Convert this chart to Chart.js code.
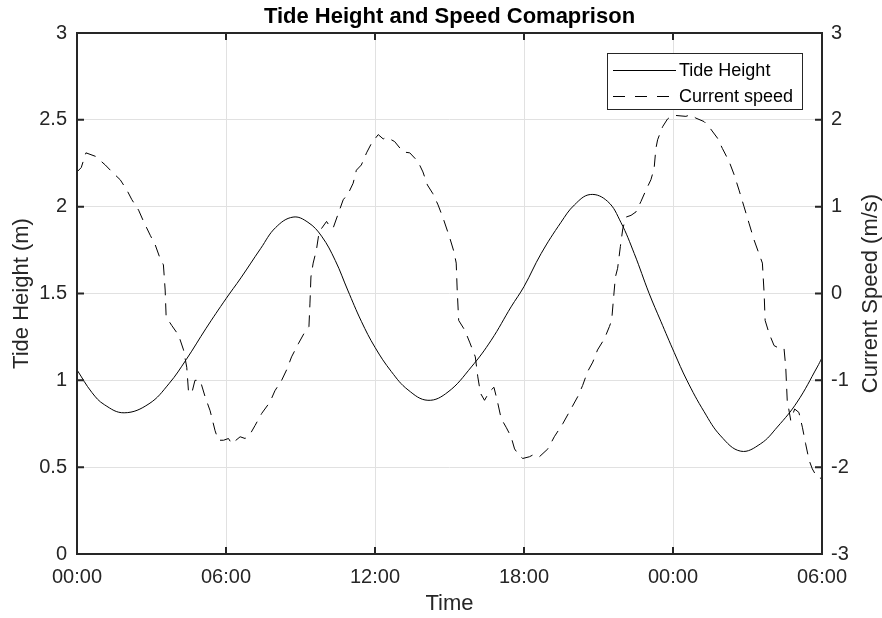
<!DOCTYPE html>
<html>
<head>
<meta charset="utf-8">
<script src="https://cdn.jsdelivr.net/npm/chart.js@4.4.1/dist/chart.umd.min.js"></script>
<style>
  html, body { margin: 0; padding: 0; background: #ffffff; }
  #wrap { width: 882px; height: 618px; position: relative; }
</style>
</head>
<body>
<div id="wrap"><canvas id="c" width="882" height="618"></canvas></div>
<script>
// ---- Data (hours since 00:00 of day 1) ----
const tideTime = [0, 0.6, 1.1, 1.9, 2.9, 3.7, 4.4, 5.2, 6.0, 6.6, 7.4, 8.0, 8.7, 9.3, 9.85, 10.4, 10.9, 11.45, 12.0, 12.66, 13.33, 14.13, 14.94, 15.88, 16.68, 17.48, 18.0, 18.69, 19.49, 20.03, 20.67, 21.37, 21.9, 22.44, 23.04, 23.51, 24.05, 24.56, 25.25, 25.92, 26.73, 27.53, 28.2, 29.0, 29.81, 30.0];
const tideHeight = [1.06, 0.93, 0.86, 0.813, 0.865, 0.98, 1.12, 1.30, 1.47, 1.59, 1.76, 1.88, 1.94, 1.91, 1.83, 1.69, 1.52, 1.34, 1.19, 1.05, 0.945, 0.885, 0.933, 1.077, 1.231, 1.423, 1.54, 1.73, 1.91, 2.01, 2.07, 2.03, 1.91, 1.73, 1.50, 1.34, 1.16, 1.0, 0.82, 0.68, 0.592, 0.635, 0.731, 0.875, 1.077, 1.13];

const speedTime = [0.0, 0.17, 0.36, 0.74, 1.14, 1.41, 1.74, 2.01, 2.21, 2.48, 2.68, 2.95, 3.15, 3.35, 3.48, 3.55, 3.59, 3.82, 4.09, 4.29, 4.42, 4.49, 4.62, 4.75, 4.96, 5.16, 5.36, 5.56, 5.69, 5.90, 6.10, 6.23, 6.57, 6.77, 6.97, 7.17, 7.44, 7.77, 7.97, 8.24, 8.44, 8.64, 8.91, 9.18, 9.34, 9.38, 9.42, 9.51, 9.64, 9.74, 9.85, 10.05, 10.18, 10.31, 10.52, 10.72, 10.92, 11.12, 11.25, 11.45, 11.66, 11.86, 12.13, 12.33, 12.46, 12.79, 13.13, 13.40, 13.73, 13.93, 14.11, 14.33, 14.54, 14.74, 15.00, 15.18, 15.27, 15.31, 15.37, 15.61, 15.81, 16.04, 16.14, 16.25, 16.41, 16.61, 16.79, 16.92, 17.08, 17.28, 17.48, 17.62, 17.82, 17.95, 18.22, 18.42, 18.62, 18.96, 19.22, 19.56, 19.89, 20.16, 20.36, 20.56, 20.77, 20.96, 21.24, 21.44, 21.53, 21.61, 21.68, 21.77, 21.88, 21.98, 22.11, 22.31, 22.51, 22.71, 22.91, 23.11, 23.24, 23.31, 23.38, 23.58, 23.78, 23.98, 24.12, 24.52, 24.72, 24.92, 25.25, 25.45, 25.79, 25.99, 26.26, 26.46, 26.66, 26.86, 27.06, 27.26, 27.46, 27.60, 27.67, 27.71, 27.87, 28.07, 28.27, 28.47, 28.54, 28.60, 28.74, 28.90, 29.07, 29.21, 29.34, 29.48, 29.61, 29.81, 30.00];
const speedValue = [1.40, 1.45, 1.62, 1.58, 1.48, 1.40, 1.31, 1.19, 1.08, 0.96, 0.83, 0.67, 0.56, 0.40, 0.33, 0.04, -0.27, -0.37, -0.48, -0.65, -0.85, -1.13, -1.15, -1.00, -1.00, -1.19, -1.35, -1.58, -1.69, -1.69, -1.67, -1.73, -1.65, -1.67, -1.62, -1.52, -1.38, -1.25, -1.12, -1.00, -0.88, -0.73, -0.58, -0.44, -0.38, -0.12, 0.19, 0.35, 0.50, 0.69, 0.75, 0.83, 0.77, 0.75, 0.92, 1.08, 1.15, 1.27, 1.42, 1.48, 1.62, 1.73, 1.83, 1.78, 1.80, 1.75, 1.63, 1.62, 1.52, 1.40, 1.25, 1.15, 1.02, 0.87, 0.65, 0.48, 0.35, 0.04, -0.31, -0.42, -0.56, -0.73, -0.96, -1.15, -1.23, -1.13, -1.08, -1.23, -1.44, -1.54, -1.65, -1.79, -1.87, -1.90, -1.88, -1.85, -1.88, -1.79, -1.65, -1.50, -1.33, -1.19, -1.06, -0.90, -0.79, -0.65, -0.52, -0.38, -0.31, -0.04, 0.19, 0.29, 0.54, 0.75, 0.88, 0.90, 0.94, 1.06, 1.19, 1.31, 1.44, 1.67, 1.77, 1.92, 2.01, 2.05, 2.05, 2.04, 2.06, 2.02, 1.98, 1.92, 1.79, 1.67, 1.52, 1.37, 1.19, 1.00, 0.81, 0.62, 0.46, 0.35, 0.00, -0.31, -0.46, -0.60, -0.63, -0.63, -0.85, -1.23, -1.46, -1.33, -1.37, -1.54, -1.73, -1.92, -2.02, -2.12, -2.13];

const xTickLabels = ['00:00', '06:00', '12:00', '18:00', '00:00', '06:00'];
const leftTickLabels = ['0', '0.5', '1', '1.5', '2', '2.5', '3'];
const rightTickLabels = ['-3', '-2', '-1', '0', '1', '2', '3'];

const seriesNames = ['Tide Height', 'Current speed'];
const chartTitle = 'Tide Height and Speed Comaprison';

// ---- Styling ----
const FONT = '"Liberation Sans", Arial, Helvetica, sans-serif';
const AXIS_COLOR = '#262626';
const GRID_COLOR = '#e1e1e1';
const DASH = [12, 8];

const framePlugin = {
  id: 'matlabFrame',
  afterDraw(chart) {
    const {ctx, chartArea: a, scales} = chart;
    ctx.save();
    // box
    ctx.strokeStyle = AXIS_COLOR;
    ctx.lineWidth = 2;
    ctx.strokeRect(a.left, a.top, a.right - a.left, a.bottom - a.top);
    // inward ticks
    const tl = 7;
    ctx.lineWidth = 2;
    ctx.beginPath();
    scales.x.ticks.forEach(t => {
      const px = scales.x.getPixelForValue(t.value);
      ctx.moveTo(px, a.bottom); ctx.lineTo(px, a.bottom - tl);
      ctx.moveTo(px, a.top); ctx.lineTo(px, a.top + tl);
    });
    scales.y.ticks.forEach(t => {
      const py = scales.y.getPixelForValue(t.value);
      ctx.moveTo(a.left, py); ctx.lineTo(a.left + tl, py);
    });
    scales.y2.ticks.forEach(t => {
      const py = scales.y2.getPixelForValue(t.value);
      ctx.moveTo(a.right, py); ctx.lineTo(a.right - tl, py);
    });
    ctx.stroke();

    // title
    ctx.fillStyle = '#000000';
    ctx.font = 'bold 22px ' + FONT;
    ctx.textAlign = 'center';
    ctx.textBaseline = 'middle';
    ctx.fillText(chartTitle, (a.left + a.right) / 2, 17);

    // right axis title (reads bottom-to-top)
    ctx.save();
    ctx.fillStyle = AXIS_COLOR;
    ctx.font = '22px ' + FONT;
    ctx.translate(871, (a.top + a.bottom) / 2);
    ctx.rotate(-Math.PI / 2);
    ctx.fillText('Current Speed (m/s)', 0, 0);
    ctx.restore();

    // legend box
    const lx = 607, ly = 53, lw = 195, lh = 56;
    ctx.fillStyle = '#ffffff';
    ctx.fillRect(lx, ly, lw, lh);
    ctx.strokeStyle = AXIS_COLOR;
    ctx.lineWidth = 1;
    ctx.strokeRect(lx + 0.5, ly + 0.5, lw, lh);
    const rows = [70, 96];
    const lineEnds = [676, 670];
    const legendDash = [[], [12, 10]];
    const dsList = chart.data.datasets;
    ctx.font = '18px ' + FONT;
    ctx.textAlign = 'left';
    ctx.textBaseline = 'middle';
    rows.forEach((ry, i) => {
      ctx.beginPath();
      ctx.strokeStyle = '#000000';
      ctx.lineWidth = 1;
      ctx.setLineDash(legendDash[i]);
      ctx.moveTo(613, ry + 0.5);
      ctx.lineTo(lineEnds[i], ry + 0.5);
      ctx.stroke();
      ctx.setLineDash([]);
      ctx.fillStyle = '#000000';
      ctx.fillText(dsList[i].label, 679, ry + 1);
    });
    ctx.restore();
  }
};

const ctx = document.getElementById('c').getContext('2d');
new Chart(ctx, {
  type: 'line',
  data: {
    datasets: [
      {
        label: seriesNames[0],
        data: tideTime.map((t, i) => ({x: t, y: tideHeight[i]})),
        yAxisID: 'y',
        borderColor: '#000000',
        borderWidth: 1,
        pointRadius: 0,
        tension: 0.4,
        fill: false
      },
      {
        label: seriesNames[1],
        data: speedTime.map((t, i) => ({x: t, y: speedValue[i]})),
        yAxisID: 'y2',
        borderColor: '#000000',
        borderWidth: 1,
        borderDash: DASH,
        pointRadius: 0,
        tension: 0,
        fill: false
      }
    ]
  },
  options: {
    responsive: false,
    devicePixelRatio: 1,
    animation: false,
    events: [],
    layout: { padding: { top: 33, left: 0, right: 0, bottom: 0 } },
    plugins: {
      legend: { display: false },
      title: { display: false },
      tooltip: { enabled: false }
    },
    scales: {
      x: {
        type: 'linear',
        min: 0, max: 30,
        afterFit(s) { s.height = 64; },
        ticks: {
          stepSize: 6,
          padding: 11,
          color: AXIS_COLOR,
          font: { family: FONT, size: 20 },
          maxRotation: 0,
          callback: (v, i) => xTickLabels[i]
        },
        grid: { color: GRID_COLOR, lineWidth: 1, drawTicks: false },
        border: { display: false },
        title: {
          display: true, text: 'Time', color: AXIS_COLOR,
          font: { family: FONT, size: 22 }, padding: { top: 0, bottom: 1 }
        }
      },
      y: {
        type: 'linear', position: 'left',
        min: 0, max: 3,
        afterFit(s) { s.width = 77; },
        ticks: {
          stepSize: 0.5,
          padding: 10,
          color: AXIS_COLOR,
          font: { family: FONT, size: 20 },
          callback: (v, i) => leftTickLabels[i]
        },
        grid: { color: GRID_COLOR, lineWidth: 1, drawTicks: false },
        border: { display: false },
        title: {
          display: true, text: 'Tide Height (m)', color: AXIS_COLOR,
          font: { family: FONT, size: 22 }, padding: { top: 9, bottom: 0 }
        }
      },
      y2: {
        type: 'linear', position: 'right',
        min: -3, max: 3,
        afterFit(s) { s.width = 60; },
        ticks: {
          stepSize: 1,
          padding: 9,
          color: AXIS_COLOR,
          font: { family: FONT, size: 20 },
          callback: (v, i) => rightTickLabels[i]
        },
        grid: { drawOnChartArea: false, drawTicks: false },
        border: { display: false }
      }
    }
  },
  plugins: [framePlugin]
});
</script>
</body>
</html>
